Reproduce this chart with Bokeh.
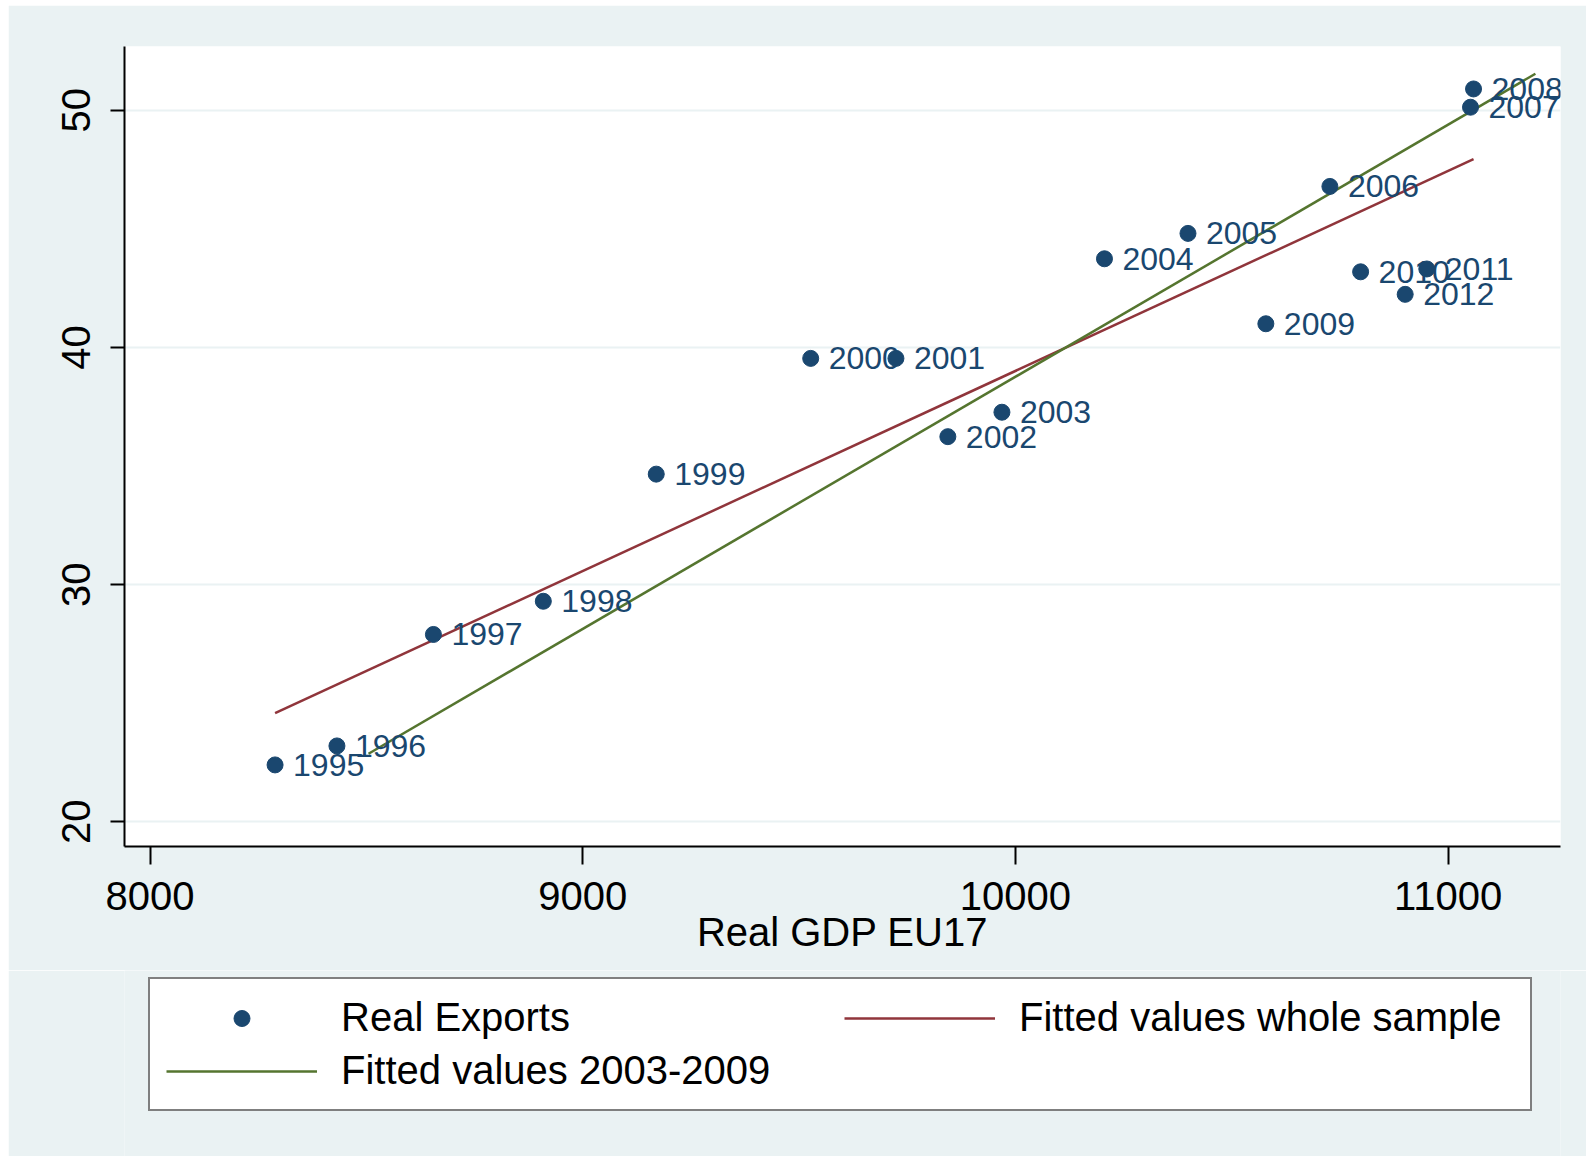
import math
from bokeh.plotting import figure
from bokeh.layouts import column
from bokeh.models import (ColumnDataSource, Range1d, FixedTicker, Legend, LegendItem,
                          LabelSet)
from bokeh.core.properties import value
from bokeh.embed import file_html
from bokeh.resources import INLINE

# ---------------- data ----------------
years = ["1995", "1996", "1997", "1998", "1999", "2000", "2001", "2002", "2003",
         "2004", "2005", "2006", "2007", "2008", "2009", "2010", "2011", "2012"]
real_gdp = [8289, 8432, 8655, 8909, 9170, 9527, 9724, 9844, 9969,
            10206, 10399, 10727, 11052, 11059, 10579, 10798, 10951, 10901]
real_exports = [22.4, 23.2, 27.9, 29.3, 34.66, 39.54, 39.54, 36.24, 37.27,
                43.74, 44.81, 46.79, 50.13, 50.9, 41.0, 43.19, 43.31, 42.24]

fit_whole_x = [8289, 11059]
fit_whole_y = [24.58, 47.94]
fit_sub_x = [8505, 11202]
fit_sub_y = [22.87, 51.54]

x_ticks = [8000, 9000, 10000, 11000]
y_ticks = [20, 30, 40, 50]

x_title = "Real GDP EU17"
legend_labels = ["Real Exports", "Fitted values whole sample", "Fitted values 2003-2009"]

# ---------------- style ----------------
BG = "#EAF2F3"
NAVY = "#1A476F"
MAROON = "#90353B"
GREEN = "#55752F"
FONT = "Liberation Sans"

p = figure(width=1578, height=965, output_backend="svg", toolbar_location=None,
           x_range=Range1d(7941, 11260), y_range=Range1d(18.96, 52.69),
           min_border_left=116, min_border_right=26, min_border_top=41,
           min_border_bottom=124)
p.border_fill_color = BG
p.background_fill_color = "white"
p.outline_line_color = None

src = ColumnDataSource(dict(x=real_gdp, y=real_exports, year=years))

r_red = p.line(fit_whole_x, fit_whole_y, line_color=MAROON, line_width=2.5)
r_green = p.line(fit_sub_x, fit_sub_y, line_color=GREEN, line_width=2.5)
sc = p.scatter("x", "y", source=src, size=16, marker="circle",
               fill_color=NAVY, line_color=NAVY)

labels = LabelSet(x="x", y="y", text="year", source=src, x_offset=18, y_offset=0,
                  text_baseline="middle", text_align="left", text_color=NAVY,
                  text_font=value(FONT), text_font_size="32px")
p.add_layout(labels)

# axes
p.xaxis.ticker = FixedTicker(ticks=x_ticks)
p.yaxis.ticker = FixedTicker(ticks=y_ticks)
for ax in (p.xaxis, p.yaxis):
    ax.axis_line_color = "black"
    ax.axis_line_width = 2
    ax.major_tick_line_color = "black"
    ax.major_tick_line_width = 2
    ax.major_tick_in = 0
    ax.minor_tick_line_color = None
    ax.major_label_text_font = FONT
    ax.major_label_text_font_size = "40px"
    ax.major_label_text_color = "black"
    ax.axis_label_text_font = FONT
    ax.axis_label_text_font_size = "40px"
    ax.axis_label_text_font_style = "normal"
    ax.axis_label_text_color = "black"
p.xaxis.major_tick_out = 18
p.yaxis.major_tick_out = 14
p.xaxis.major_label_standoff = 17
p.yaxis.major_label_standoff = 20
p.yaxis.major_label_orientation = "vertical"
p.xaxis.axis_label = x_title
p.xaxis.axis_label_standoff = -3

p.xgrid.grid_line_color = None
p.ygrid.grid_line_color = BG
p.ygrid.grid_line_width = 2

# ---------------- legend panel ----------------
lg = figure(width=1578, height=186, output_backend="svg", toolbar_location=None,
            x_range=Range1d(0, 1), y_range=Range1d(0, 1),
            min_border_left=116, min_border_right=26, min_border_top=0,
            min_border_bottom=0)
lg.axis.visible = False
lg.grid.visible = False
lg.outline_line_color = None
lg.background_fill_color = BG
lg.border_fill_color = BG

# off-screen stand-ins that only supply the legend swatches
d_sc = lg.scatter(x=[-5], y=[-5], size=16, marker="circle", fill_color=NAVY, line_color=NAVY)
d_red = lg.line(x=[-5, -4], y=[-5, -4], line_color=MAROON, line_width=2.5)
d_green = lg.line(x=[-5, -4], y=[-5, -4], line_color=GREEN, line_width=2.5)

legend = Legend(items=[LegendItem(label=legend_labels[0], renderers=[d_sc]),
                       LegendItem(label=legend_labels[1], renderers=[d_red]),
                       LegendItem(label=legend_labels[2], renderers=[d_green])],
                location=(24, 45), orientation="horizontal", ncols=2,
                glyph_width=151, glyph_height=40, label_standoff=24,
                label_width=495, padding=16, spacing=8, margin=0,
                border_line_color="black", border_line_width=2.5,
                background_fill_color="white", background_fill_alpha=1,
                label_text_font=FONT, label_text_font_size="40px",
                label_text_color="black")
lg.add_layout(legend, "center")

layout = column(p, lg, spacing=0)
layout.margin = (5, 0, 0, 8)

open("out.html", "w").write(file_html(layout, INLINE))
